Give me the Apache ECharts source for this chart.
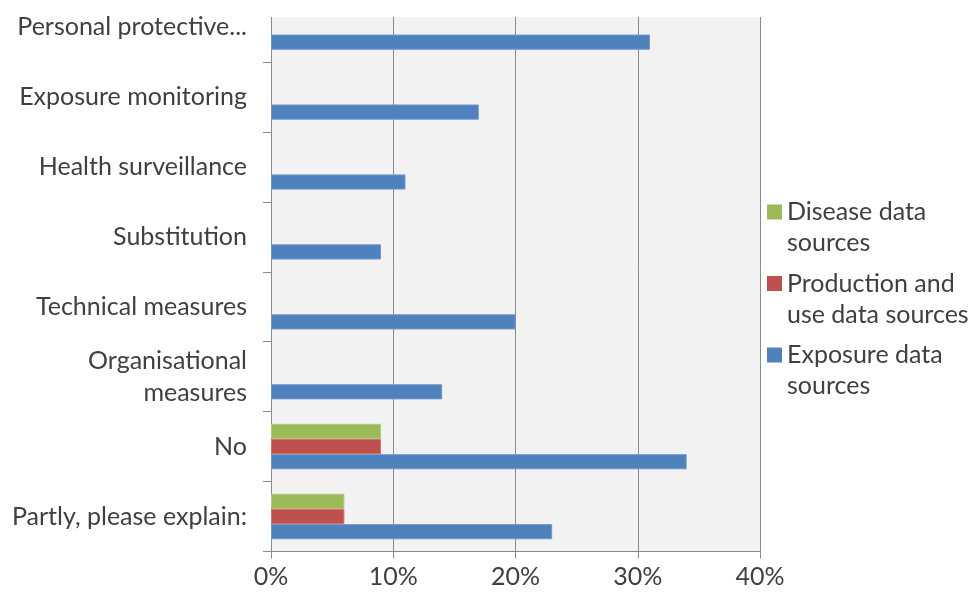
<!DOCTYPE html>
<html>
<head>
<meta charset="utf-8">
<script src="https://cdn.jsdelivr.net/npm/echarts@6/dist/echarts.min.js"></script>
<style>
html,body{margin:0;padding:0;background:#fff;overflow:hidden;}
#chart{width:969px;height:605px;margin-top:-8px;}
</style>
</head>
<body>
<div id="chart"></div>
<script>
// Categories listed bottom to top (ECharts category y-axis starts at the bottom)
const categories = [
  'Partly, please explain:',
  'No',
  'Organisational measures',
  'Technical measures',
  'Substitution',
  'Health surveillance',
  'Exposure monitoring',
  'Personal protective...'
];
const exposureValues   = [23, 34, 14, 20, 9, 11, 17, 31];
const productionValues = [6, 9, null, null, null, null, null, null];
const diseaseValues    = [6, 9, null, null, null, null, null, null];
const seriesNames = ['Disease data sources', 'Production and use data sources', 'Exposure data sources'];
const legendLabels = {
  'Disease data sources': 'Disease data\nsources',
  'Production and use data sources': 'Production and\nuse data sources',
  'Exposure data sources': 'Exposure data\nsources'
};
const xTicks = [0, 10, 20, 30, 40];

const FONT = 'Lato';
const TXT = '#404040';
const chart = echarts.init(document.getElementById('chart'), null, {renderer: 'canvas'});
const legendIcon = 'path://M0,8L15,8L15,23L0,23Z M0,0L0,0Z M0,62L0,62Z';

chart.setOption({
  animation: false,
  textStyle: {fontFamily: FONT},
  grid: {left: 271, right: 209, top: 0, bottom: 45.5, backgroundColor: '#f2f2f2', show: true, borderWidth: 0},
  legend: {
    orient: 'vertical', left: 767, top: 204.5, padding: 0,
    itemWidth: 15, itemHeight: 62, itemGap: 9.5,
    icon: legendIcon,
    itemStyle: {borderWidth: 0},
    data: seriesNames,
    formatter: n => legendLabels[n],
    textStyle: {fontFamily: FONT, fontSize: 25, color: TXT, lineHeight: 31}
  },
  xAxis: {
    type: 'value', min: xTicks[0], max: xTicks[xTicks.length - 1], interval: 10,
    axisLine: {show: true, lineStyle: {color: '#8a8a8a', width: 1}},
    axisTick: {show: true, length: 7, lineStyle: {color: '#8a8a8a'}},
    splitLine: {show: true, lineStyle: {color: '#8a8a8a', width: 1}},
    axisLabel: {formatter: '{value}%', fontFamily: FONT, fontSize: 25, color: TXT, margin: 13}
  },
  yAxis: {
    type: 'category', data: categories,
    axisLine: {show: true, lineStyle: {color: '#8a8a8a', width: 1}},
    axisTick: {show: true, length: 8, lineStyle: {color: '#8a8a8a'}},
    axisLabel: {
      fontFamily: FONT, fontSize: 25, color: TXT, margin: 24, lineHeight: 32,
      formatter: v => v.replace('Organisational ', 'Organisational\n')
    }
  },
  graphic: [{
    type: 'rect', left: 255, top: 0, z: 100,
    shape: {width: 520, height: 25},
    style: {fill: '#ffffff'}
  }],
  series: [
    {name: seriesNames[0], type: 'bar', data: diseaseValues, barGap: '0%', barCategoryGap: '35%',
     itemStyle: {color: '#9bbb59', borderColor: '#aecb74', borderWidth: 1}},
    {name: seriesNames[1], type: 'bar', data: productionValues, barGap: '0%', barCategoryGap: '35%',
     itemStyle: {color: '#c0504d', borderColor: '#d16f6c', borderWidth: 1}},
    {name: seriesNames[2], type: 'bar', data: exposureValues, barGap: '0%', barCategoryGap: '35%',
     itemStyle: {color: '#4f81bd', borderColor: '#6f98cc', borderWidth: 1}}
  ]
});
</script>
</body>
</html>
